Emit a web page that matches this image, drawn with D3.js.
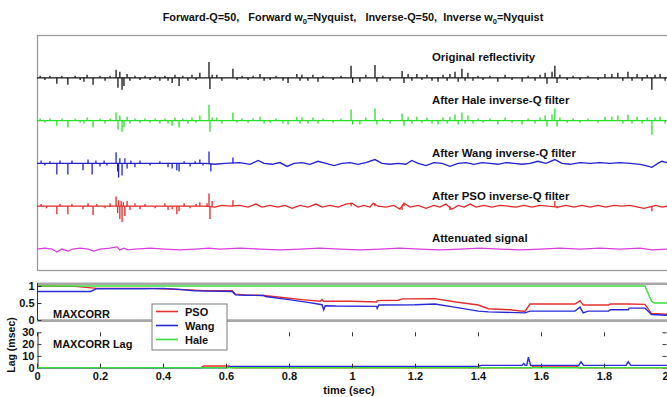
<!DOCTYPE html>
<html>
<head>
<meta charset="utf-8">
<script src="https://cdn.jsdelivr.net/npm/d3@7"></script>
<style>
  body { margin: 0; background: #fff; }
  svg { display: block; }
  text { font-family: Arial, "Liberation Sans", sans-serif; font-weight: bold; fill: #111; }
</style>
</head>
<body>
<svg id="chart" width="667" height="397"></svg>
<script>

// ---- data (time in sec, amplitude in trace units) ----

const traceNames = ["Original reflectivity", "After Hale inverse-Q filter", "After Wang inverse-Q filter",
                    "After PSO inverse-Q filter", "Attenuated signal"]

const reflectivitySpikes = [
  [0.010,0.05],[0.025,-0.05],[0.041,0.05],[0.063,-0.14],[0.079,0.05],[0.098,-0.16],[0.121,0.05],[0.137,-0.05],
  [0.149,-0.09],[0.159,0.07],[0.178,-0.16],[0.200,0.05],[0.216,-0.07],[0.232,0.05],[0.251,0.19],[0.257,-0.23],
  [0.263,0.14],[0.270,-0.28],[0.276,-0.19],[0.286,0.09],[0.295,-0.07],[0.311,0.05],[0.327,-0.05],[0.343,0.05],
  [0.359,-0.05],[0.375,0.05],[0.390,-0.07],[0.406,0.05],[0.416,-0.07],[0.429,-0.12],[0.438,0.07],[0.451,-0.19],
  [0.463,0.05],[0.479,-0.07],[0.492,0.07],[0.505,-0.05],[0.517,0.12],[0.546,0.37],[0.549,-0.26],[0.556,0.07],
  [0.571,0.07],[0.587,-0.07],[0.622,0.21],[0.635,-0.05],[0.651,0.05],[0.670,-0.05],[0.686,0.05],[0.708,0.09],
  [0.721,-0.07],[0.740,-0.05],[0.759,0.05],[0.781,-0.07],[0.797,-0.12],[0.825,0.09],[0.835,-0.07],[0.841,0.07],
  [0.860,-0.07],[0.876,0.07],[0.892,-0.09],[0.908,0.05],[0.940,-0.05],[0.965,0.05],[0.997,0.28],[1.002,-0.12],
  [1.025,-0.09],[1.044,0.07],[1.073,0.30],[1.079,-0.09],[1.098,0.05],[1.121,-0.07],[1.159,0.16],[1.165,-0.12],
  [1.178,0.09],[1.190,-0.07],[1.206,0.09],[1.222,-0.05],[1.238,0.07],[1.254,-0.07],[1.273,-0.09],[1.289,0.07],
  [1.302,-0.07],[1.311,0.09],[1.327,0.14],[1.337,-0.09],[1.349,0.21],[1.359,-0.07],[1.368,0.12],[1.384,-0.07],
  [1.400,0.05],[1.416,-0.05],[1.438,0.05],[1.463,-0.09],[1.486,0.07],[1.508,-0.05],[1.540,-0.09],[1.559,0.05],
  [1.581,-0.07],[1.597,0.07],[1.613,0.12],[1.619,-0.14],[1.635,0.14],[1.644,0.28],[1.651,-0.12],[1.660,0.07],
  [1.683,-0.05],[1.702,0.05],[1.724,-0.05],[1.749,0.05],[1.781,-0.05],[1.803,0.09],[1.825,0.09],[1.844,0.12],
  [1.860,-0.07],[1.876,0.14],[1.889,-0.07],[1.905,0.09],[1.921,-0.07],[1.937,0.07],[1.952,-0.28],[1.962,0.07],
  [1.978,0.09],[1.994,-0.07]
]

const haleSpikes = [
  [0.010,0.05],[0.025,-0.05],[0.041,0.05],[0.063,-0.12],[0.079,0.05],[0.098,-0.16],[0.121,0.05],[0.137,-0.05],
  [0.149,-0.07],[0.159,0.07],[0.178,-0.16],[0.200,0.05],[0.216,-0.07],[0.232,0.05],[0.251,0.19],[0.257,-0.21],
  [0.263,0.12],[0.270,-0.26],[0.276,-0.16],[0.286,0.09],[0.295,-0.07],[0.311,0.05],[0.327,-0.05],[0.343,0.05],
  [0.359,-0.05],[0.375,0.05],[0.390,-0.07],[0.406,0.05],[0.416,-0.07],[0.429,-0.12],[0.438,0.07],[0.451,-0.16],
  [0.463,0.05],[0.479,-0.07],[0.492,0.07],[0.505,-0.05],[0.517,0.12],[0.546,0.37],[0.549,-0.26],[0.556,0.07],
  [0.571,0.07],[0.587,-0.07],[0.622,0.19],[0.635,-0.05],[0.651,0.05],[0.670,-0.05],[0.686,0.05],[0.708,0.09],
  [0.721,-0.07],[0.740,-0.05],[0.759,0.05],[0.781,-0.07],[0.797,-0.09],[0.825,0.09],[0.835,-0.07],[0.841,0.07],
  [0.860,-0.07],[0.876,0.07],[0.892,-0.07],[0.908,0.05],[0.940,-0.05],[0.965,0.05],[0.997,0.26],[1.002,-0.09],
  [1.025,-0.09],[1.044,0.07],[1.073,0.28],[1.079,-0.09],[1.098,0.05],[1.121,-0.07],[1.159,0.16],[1.165,-0.12],
  [1.178,0.09],[1.190,-0.07],[1.206,0.09],[1.222,-0.05],[1.238,0.07],[1.254,-0.07],[1.273,-0.09],[1.289,0.07],
  [1.302,-0.07],[1.311,0.09],[1.327,0.14],[1.337,-0.09],[1.349,0.19],[1.359,-0.07],[1.368,0.12],[1.384,-0.07],
  [1.400,0.05],[1.416,-0.05],[1.438,0.05],[1.463,-0.09],[1.486,0.07],[1.508,-0.05],[1.540,-0.09],[1.559,0.05],
  [1.581,-0.07],[1.597,0.07],[1.613,0.12],[1.619,-0.14],[1.635,0.14],[1.644,0.28],[1.651,-0.14],[1.660,0.07],
  [1.683,-0.05],[1.702,0.05],[1.724,-0.05],[1.749,0.05],[1.781,-0.05],[1.803,0.09],[1.825,0.09],[1.844,0.12],
  [1.860,-0.07],[1.876,0.14],[1.889,-0.07],[1.905,0.09],[1.921,-0.07],[1.937,0.07],[1.952,-0.33],[1.962,0.07],
  [1.978,0.09],[1.994,-0.07]
]

const wangSpikes = [
  [0.013,0.07],[0.025,-0.05],[0.041,0.05],[0.063,-0.26],[0.073,0.07],[0.098,-0.26],[0.111,0.07],[0.146,-0.16],
  [0.162,0.09],[0.175,-0.26],[0.187,0.07],[0.200,-0.07],[0.213,0.07],[0.222,-0.05],[0.251,0.26],[0.256,-0.19],
  [0.259,-0.33],[0.263,0.12],[0.270,-0.28],[0.279,0.12],[0.286,-0.12],[0.298,0.07],[0.311,-0.09],[0.327,0.07],
  [0.359,-0.05],[0.390,0.05],[0.416,-0.09],[0.429,-0.12],[0.444,-0.16],[0.451,-0.19],[0.467,0.05],[0.486,-0.07],
  [0.502,0.05],[0.517,0.09],[0.527,-0.05],[0.546,0.28],[0.552,-0.19],[0.622,0.14]
]

const psoSpikes = [
  [0.013,0.05],[0.030,-0.05],[0.063,-0.19],[0.073,0.05],[0.098,-0.19],[0.111,0.05],[0.146,-0.07],[0.162,0.07],
  [0.178,-0.21],[0.190,0.05],[0.216,-0.05],[0.232,0.07],[0.251,0.23],[0.256,-0.16],[0.259,0.14],[0.263,-0.30],
  [0.267,0.12],[0.270,-0.37],[0.274,0.09],[0.279,-0.23],[0.286,0.12],[0.295,-0.09],[0.311,0.07],[0.327,-0.07],
  [0.343,0.05],[0.375,-0.05],[0.406,0.07],[0.416,-0.09],[0.429,-0.07],[0.444,-0.19],[0.451,-0.12],[0.467,0.07],
  [0.486,-0.05],[0.505,0.05],[0.517,0.09],[0.540,0.07],[0.546,0.30],[0.549,-0.30],[0.556,0.12],[0.622,0.14],
  [0.997,0.07],[1.073,0.07],[1.159,-0.09],[1.165,0.07],[1.311,-0.09],[1.644,0.12],[1.651,-0.05],[1.952,-0.12]
]

const flatLine = [[0,0],[2,0]]

const wangWiggle = [
  [0,0],[0.533,0],[0.565,-0.02],[0.597,0],[0.644,0.02],[0.676,-0.02],[0.702,0.07],[0.721,0],[0.746,-0.02],
  [0.771,0.02],[0.794,-0.07],[0.816,0],[0.841,0.02],[0.867,-0.02],[0.892,0.05],[0.917,0],[0.943,-0.05],
  [0.968,0],[0.994,0.02],[1.019,-0.02],[1.044,0.02],[1.073,0.09],[1.095,0],[1.121,-0.02],[1.146,0],
  [1.171,-0.02],[1.190,0.07],[1.210,0],[1.235,-0.05],[1.260,0.02],[1.286,0],[1.311,-0.07],[1.337,0],
  [1.362,0.02],[1.387,-0.02],[1.413,0.02],[1.438,0],[1.463,-0.02],[1.489,0.02],[1.514,0],[1.540,-0.02],
  [1.565,0],[1.590,0.05],[1.616,0],[1.644,0.09],[1.667,0],[1.692,-0.02],[1.724,0.02],[1.756,0],[1.787,0.02],
  [1.819,0],[1.851,0.02],[1.883,0],[1.914,-0.02],[1.933,-0.05],[1.952,-0.09],[1.971,0],[1.984,0.05],[2.0,0.02]
]

const psoWiggle = [
  [0,0],[0.533,0],[0.565,-0.02],[0.587,0.02],[0.613,0],[0.644,0.02],[0.670,-0.02],[0.695,0.05],[0.714,-0.02],
  [0.740,0.02],[0.765,-0.02],[0.787,0.02],[0.810,-0.05],[0.835,0.02],[0.860,-0.02],[0.886,0.05],[0.905,-0.02],
  [0.930,0.02],[0.956,-0.02],[0.981,0.05],[1.000,0.07],[1.019,-0.02],[1.038,0.02],[1.057,-0.02],[1.067,0.07],
  [1.083,0],[1.108,-0.02],[1.133,0.02],[1.152,-0.07],[1.165,0.07],[1.184,-0.02],[1.210,0.02],[1.235,-0.05],
  [1.260,0.02],[1.279,-0.02],[1.298,0.05],[1.317,-0.07],[1.337,0.02],[1.356,-0.02],[1.375,0.05],[1.394,-0.02],
  [1.419,0.02],[1.444,-0.02],[1.470,0.02],[1.495,0],[1.521,-0.02],[1.546,0.02],[1.571,-0.02],[1.597,0.02],
  [1.622,0],[1.654,-0.02],[1.679,0.02],[1.705,-0.02],[1.730,0.02],[1.756,-0.02],[1.781,0.02],[1.806,-0.02],
  [1.832,0.02],[1.857,0],[1.883,0.02],[1.908,-0.02],[1.927,-0.05],[1.965,0.02],[1.984,-0.02],[2.0,0]
]

const attenuatedWiggle = [
  [0,0],[0.025,0.02],[0.048,0],[0.063,-0.07],[0.079,0],[0.098,-0.05],[0.114,0],[0.137,0.02],[0.162,0],
  [0.181,-0.05],[0.200,0],[0.232,0.02],[0.254,0.05],[0.263,-0.02],[0.276,0.02],[0.289,-0.02],[0.311,0],
  [0.359,0.02],[0.406,0],[0.454,-0.02],[0.502,0],[0.546,0.02],[0.581,0],[0.644,0.02],[0.708,0],[0.771,-0.02],
  [0.835,0],[0.898,0.02],[0.962,0],[1.025,-0.02],[1.089,0],[1.152,0.02],[1.216,0],[1.279,-0.02],[1.343,0],
  [1.406,0.02],[1.470,0],[1.533,-0.02],[1.597,0],[1.660,0.02],[1.724,0],[1.787,0.02],[1.851,0],[1.914,0.02],
  [1.952,-0.02],[2.0,0]
]

const methods = ["PSO", "Wang", "Hale"]

const maxcorrPSO = [
  [0,1.0],[0.12,0.99],[0.19,0.93],[0.35,0.93],[0.42,0.91],[0.5,0.88],[0.53,0.86],[0.62,0.86],[0.63,0.76],
  [0.66,0.74],[0.72,0.72],[0.78,0.66],[0.84,0.6],[0.9,0.55],[0.905,0.6],[0.91,0.55],[1.0,0.55],[1.078,0.53],
  [1.08,0.57],[1.147,0.58],[1.16,0.62],[1.263,0.63],[1.33,0.53],[1.401,0.44],[1.433,0.33],[1.5,0.30],
  [1.549,0.25],[1.565,0.47],[1.708,0.47],[1.724,0.57],[1.734,0.44],[1.814,0.44],[1.82,0.47],[1.877,0.47],
  [1.93,0.46],[1.951,0.19],[2.0,0.17]
]
const maxcorrWang = [
  [0,0.84],[0.17,0.84],[0.19,0.92],[0.34,0.92],[0.4,0.93],[0.45,0.90],[0.5,0.86],[0.55,0.85],[0.62,0.84],
  [0.63,0.74],[0.66,0.73],[0.72,0.72],[0.725,0.69],[0.8,0.6],[0.86,0.52],[0.905,0.45],[0.91,0.3],[0.915,0.42],
  [0.95,0.41],[1.078,0.40],[1.08,0.34],[1.085,0.44],[1.2,0.45],[1.263,0.47],[1.33,0.37],[1.401,0.26],
  [1.433,0.24],[1.549,0.21],[1.565,0.26],[1.708,0.26],[1.724,0.38],[1.734,0.21],[1.75,0.26],[1.814,0.26],
  [1.82,0.30],[1.877,0.30],[1.88,0.35],[1.93,0.35],[1.951,0.16],[2.0,0.14]
]
const maxcorrHale = [[0,1.0],[1.93,1.0],[1.951,0.55],[1.96,0.5],[2.0,0.5]]

const lagPSO = [[0,0],[0.52,0],[0.53,1.4],[0.61,1.4],[0.62,0],[1.57,0],[1.575,1.5],[1.71,1.5],[1.72,0],[2,0]]
const lagWang = [
  [0,0],[0.6,0],[0.62,1],[1.4,1],[1.41,2],[1.54,2],[1.545,3.5],[1.55,2],[1.555,2],[1.56,9],[1.567,2],
  [1.72,2],[1.727,5],[1.735,2],[1.87,2],[1.877,5],[1.885,2],[2,2]
]
const lagHale = [[0,0],[2,0]]

const timeTicks = [0, 0.2, 0.4, 0.6, 0.8, 1, 1.2, 1.4, 1.6, 1.8, 2]
const corrTicks = [0, 0.5, 1]
const lagTicks = [0, 10, 20, 30]

// ---- layout ----

const svg = d3.select("#chart")
const traceColors = ["#151515", "#2adf2a", "#2222cc", "#e02828", "#dc3ddc"]
const lineColors = {PSO: "#e23030", Wang: "#2a2ad6", Hale: "#3ddd3d"}

const x = d3.scaleLinear([0, 2], [37, 667])
const yMain = d3.scaleLinear([-0.49, 5.0], [270, 35])
const yCorr = d3.scaleLinear([0, 1], [320, 286])
const yLag = d3.scaleLinear([0, 30], [367.7, 332.3])

const traces = [
    {spikes: reflectivitySpikes, wiggle: flatLine},
    {spikes: haleSpikes, wiggle: flatLine},
    {spikes: wangSpikes, wiggle: wangWiggle},
    {spikes: psoSpikes, wiggle: psoWiggle},
    {spikes: [], wiggle: attenuatedWiggle}
]
const labelBaselines = [60.5, 104, 156.5, 199.5, 241.5]

// title (keep the wide gaps)
const title = svg.append("text")
    .attr("x", 353).attr("y", 21)
    .attr("text-anchor", "middle")
    .style("font-size", "10.9px")
    .style("white-space", "pre")
title.append("tspan").text("Forward-Q=50,   Forward w")
title.append("tspan").attr("dy", 3).style("font-size", "7.5px").text("0")
title.append("tspan").attr("dy", -3).text("=Nyquist,   Inverse-Q=50,  Inverse w")
title.append("tspan").attr("dy", 3).style("font-size", "7.5px").text("0")
title.append("tspan").attr("dy", -3).text("=Nyquist")

// main panel frame
svg.append("rect")
    .attr("x", 37.5).attr("y", 35.5)
    .attr("width", 640).attr("height", 235)
    .attr("fill", "none")
    .attr("stroke", "#9c9c9c")
    .attr("stroke-width", 1.3)

const line = level => d3.line()
    .x(d => x(d[0]))
    .y(d => yMain(level + d[1]))

traces.forEach((tr, i) => {
    const level = 4 - i
    const g = svg.append("g")
    g.append("path")
        .datum(tr.wiggle)
        .attr("d", line(level))
        .attr("fill", "none")
        .attr("stroke", traceColors[i])
        .attr("stroke-width", 1.3)
    g.selectAll("line")
        .data(tr.spikes)
        .join("line")
        .attr("x1", d => x(d[0])).attr("x2", d => x(d[0]))
        .attr("y1", yMain(level)).attr("y2", d => yMain(level + d[1]))
        .attr("stroke", traceColors[i])
        .attr("stroke-width", 1.3)

    svg.append("text")
        .attr("x", 432).attr("y", labelBaselines[i])
        .style("font-size", "11.4px")
        .text(traceNames[i])
})

// MAXCORR panel
svg.append("g").selectAll("line")
    .data([283.8, 320.6])
    .join("line")
    .attr("x1", 37).attr("x2", 667)
    .attr("y1", d => d).attr("y2", d => d)
    .attr("stroke", "#a8a8a8")
    .attr("stroke-width", 2.6)

const corrLine = d3.line().x(d => x(d[0])).y(d => yCorr(d[1]))
const lagLine = d3.line().x(d => x(d[0])).y(d => yLag(d[1]))

const corrSeries = {PSO: maxcorrPSO, Wang: maxcorrWang, Hale: maxcorrHale}
const lagSeries = {PSO: lagPSO, Wang: lagWang, Hale: lagHale}

methods.forEach(m => {
    svg.append("path").datum(corrSeries[m])
        .attr("d", corrLine)
        .attr("fill", "none").attr("stroke", lineColors[m]).attr("stroke-width", 1.4)
})

const corrAxis = svg.append("g")
    .attr("transform", "translate(37.5,0)")
    .call(d3.axisLeft(yCorr).tickValues(corrTicks).tickFormat(d3.format("~g"))
        .tickSizeInner(-4).tickSizeOuter(0).tickPadding(3))
corrAxis.select(".domain").attr("d", `M0,${yCorr(0)}V283`)

// lag panel
svg.append("g")
    .attr("transform", "translate(37.5,0)")
    .call(d3.axisLeft(yLag).tickValues(lagTicks).tickSizeInner(-4).tickSizeOuter(0).tickPadding(3))
svg.append("g")
    .attr("transform", "translate(666.5,0)")
    .call(d3.axisRight(yLag).tickValues(lagTicks).tickSizeInner(-4).tickSizeOuter(0).tickFormat(""))
    .select(".domain").remove()
svg.append("g")
    .attr("transform", `translate(0,${yLag(30)})`)
    .call(d3.axisTop(x).tickValues(timeTicks).tickSizeInner(-4).tickSizeOuter(0).tickFormat(""))
    .select(".domain").remove()

methods.forEach(m => {
    svg.append("path").datum(lagSeries[m])
        .attr("d", lagLine)
        .attr("fill", "none").attr("stroke", lineColors[m]).attr("stroke-width", 1.4)
})

const timeAxis = svg.append("g")
    .attr("transform", `translate(0,${yLag(0)})`)
    .call(d3.axisBottom(x).tickValues(timeTicks).tickFormat(d3.format("~g"))
        .tickSizeInner(-4).tickSizeOuter(0).tickPadding(5))
timeAxis.select(".domain").remove()
// last label sits at the right edge of the picture
timeAxis.selectAll(".tick text").filter(d => d === 2).attr("text-anchor", "end").attr("dx", 1)

svg.selectAll(".tick text").style("font-size", "11px").style("font-weight", "bold")
svg.selectAll(".tick line").attr("stroke", "#333")
svg.selectAll(".domain").attr("stroke", "#333")

// panel labels
svg.append("text").attr("x", 53).attr("y", 318).style("font-size", "11px").text("MAXCORR")
svg.append("text").attr("x", 53).attr("y", 348).style("font-size", "11px").text("MAXCORR Lag")

svg.append("text")
    .attr("transform", "translate(15,345) rotate(-90)")
    .attr("text-anchor", "middle")
    .style("font-size", "10.5px")
    .text("Lag (msec)")

svg.append("text")
    .attr("x", 349).attr("y", 394)
    .attr("text-anchor", "middle")
    .style("font-size", "11px")
    .text("time (sec)")

// legend
const legend = svg.append("g").attr("transform", "translate(152,304)")
legend.append("rect")
    .attr("width", 75).attr("height", 46)
    .attr("fill", "#fff").attr("stroke", "#7a7a7a")
methods.forEach((m, i) => {
    const yy = 7.5 + i * 14
    legend.append("line")
        .attr("x1", 4).attr("x2", 26).attr("y1", yy).attr("y2", yy)
        .attr("stroke", lineColors[m]).attr("stroke-width", 1.6)
    legend.append("text")
        .attr("x", 33).attr("y", yy + 4)
        .style("font-size", "11px")
        .text(m)
})

</script>
</body>
</html>
